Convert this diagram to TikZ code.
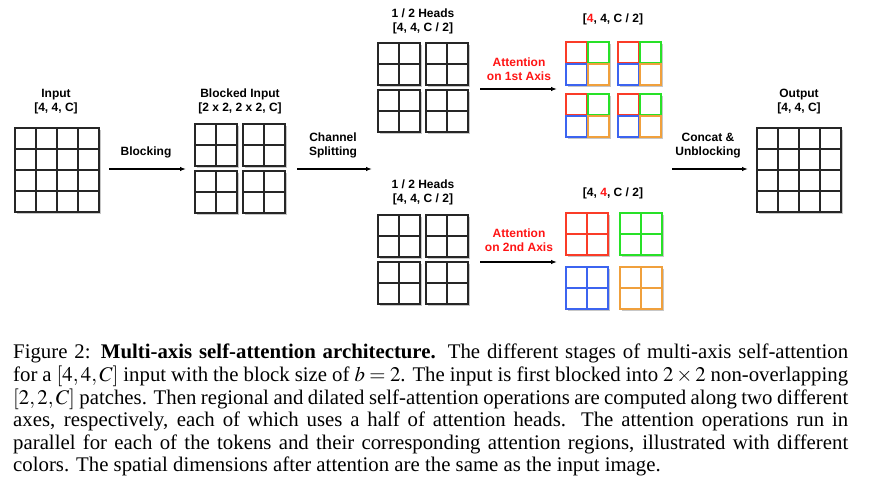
\documentclass[tikz,border=0pt]{standalone}
\usepackage{mathptmx}
\usepackage{fontspec}
\setmainfont{Liberation Serif}
\newfontfamily\labelfont{Liberation Sans}
\usetikzlibrary{arrows.meta}
\definecolor{attred}{RGB}{255,20,20}
\definecolor{tokred}{RGB}{250,60,40}
\definecolor{tokgreen}{RGB}{40,225,40}
\definecolor{tokblue}{RGB}{60,100,240}
\definecolor{tokorange}{RGB}{240,160,60}
\begin{document}
\begin{tikzpicture}[x=1pt,y=-1pt,>={Latex[length=6pt,width=4.5pt]},
	cell/.style={line width=1.4pt,black!85},
	shade/.style={fill=black!22},
	flow/.style={->,line width=1.2pt},
	lab/.style={font=\labelfont\bfseries\fontsize{12}{14}\selectfont,align=center,inner sep=0pt},
	tok/.style={line width=1.3pt}]
		\useasboundingbox (0,0) rectangle (892,481);
		% Input and output grids
		\foreach \x in {15,757} {
		\fill[shade] (\x+2,130) rectangle +(84,84);
		\fill[white] (\x,128) rectangle +(84,84);
		\foreach \i in {1,2,3} {
		\draw[cell] (\x+\i*21,128) -- +(0,84);
		\draw[cell] (\x,128+\i*21) -- +(84,0);
		}
		\draw[cell] (\x,128) rectangle +(84,84);
		}
		% Blocked input and the two halves of the heads
		\foreach \x/\y in {195/124,243/124,195/171,243/171,
			378/43,426/43,378/90,426/90,
			378/215,426/215,378/262,426/262} {
		\fill[shade] (\x+2,\y+2) rectangle +(42,42);
		\draw[cell,fill=white] (\x,\y) rectangle +(42,42);
		\draw[cell] (\x+21,\y) -- +(0,42) (\x,\y+21) -- +(42,0);
		}
		% Attention on 1st axis
		\foreach \x/\y in {566/42,618/42,566/94,618/94} {
		\fill[shade] (\x+2,\y+2) rectangle +(43,43);
		\draw[tok,draw=tokred,fill=white] (\x,\y) rectangle +(21,21);
		\draw[tok,draw=tokgreen,fill=white] (\x+22,\y) rectangle +(21,21);
		\draw[tok,draw=tokblue,fill=white] (\x,\y+22) rectangle +(21,21);
		\draw[tok,draw=tokorange,fill=white] (\x+22,\y+22) rectangle +(21,21);
		}
		% Attention on 2nd axis
		\foreach \x/\y/\c in {566/213/tokred,620/213/tokgreen,566/267/tokblue,620/267/tokorange} {
		\fill[shade] (\x+2,\y+2) rectangle +(42,42);
		\draw[tok,color=\c,fill=white] (\x,\y) rectangle +(42,42);
		\draw[color=\c,line width=1.2pt] (\x+21,\y) -- +(0,42) (\x,\y+21) -- +(42,0);
		}
		% Labels
		\node[lab] (in-lab) at (56,101.5) {Input\\{[4, 4, C]}};
		\node[lab] (blk-lab) at (240,101.5) {Blocked Input\\{[2 x 2, 2 x 2, C]}};
		\node[lab] (blocking) at (146,152) {Blocking};
		\node[lab] (split) at (333,145.5) {Channel\\Splitting};
		\node[lab] (heads-a) at (423,21) {1 / 2 Heads\\{[4, 4, C / 2]}};
		\node[lab] (heads-b) at (423,192) {1 / 2 Heads\\{[4, 4, C / 2]}};
		\node[lab,text=attred] (att-a) at (519,69.5) {Attention\\on 1st Axis};
		\node[lab,text=attred] (att-b) at (519,240.5) {Attention\\on 2nd Axis};
		\node[lab] (res-a) at (613,19) {[{\color{attred}4}, 4, C / 2]};
		\node[lab] (res-b) at (613,193) {[4, {\color{attred}4}, C / 2]};
		\node[lab] (concat) at (708,145.5) {Concat \&\\Unblocking};
		\node[lab] (out-lab) at (799,101.5) {Output\\{[4, 4, C]}};
		% Arrows
		\coordinate (blk-s) at (109,169);
		\coordinate (blk-e) at (186,169);
		\coordinate (split-s) at (297,169);
		\coordinate (split-e) at (372,169);
		\coordinate (att-a-s) at (480,89);
		\coordinate (att-a-e) at (557,89);
		\coordinate (att-b-s) at (480,262);
		\coordinate (att-b-e) at (557,262);
		\coordinate (cat-s) at (672,169);
		\coordinate (cat-e) at (748,169);
		\draw[flow] (blk-s) -- (blk-e);
		\draw[flow] (split-s) -- (split-e);
		\draw[flow] (att-a-s) -- (att-a-e);
		\draw[flow] (att-b-s) -- (att-b-e);
		\draw[flow] (cat-s) -- (cat-e);
		% Caption
		\node[anchor=north west,inner sep=0pt,text width=835pt,align=justify,
			font=\fontsize{20.8}{22.6}\selectfont] (caption) at (13,344)
			{Figure 2: \textbf{Multi-axis self-attention architecture.} The different stages of multi-axis self-attention\linebreak
			for a $[4,4,C]$ input with the block size of $b=2$. The input is first blocked into $2\times2$ non-overlapping\linebreak
			$[2,2,C]$ patches. Then regional and dilated self-attention operations are computed along two different\linebreak
			axes, respectively, each of which uses a half of attention heads. The attention operations run in\linebreak
			parallel for each of the tokens and their corresponding attention regions, illustrated with different\linebreak
			colors. The spatial dimensions after attention are the same as the input image.};
	\end{tikzpicture}
\end{document}
